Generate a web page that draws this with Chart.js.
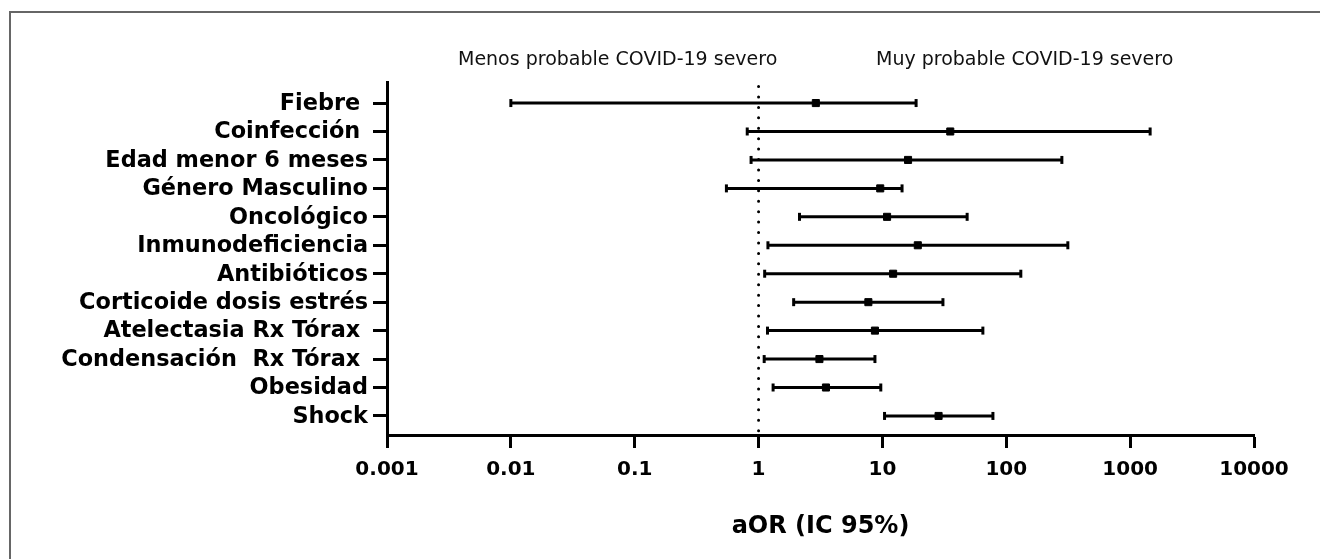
<!DOCTYPE html>
<html><head><meta charset="utf-8">
<script src="https://cdn.jsdelivr.net/npm/chart.js@4.4.0/dist/chart.umd.min.js"></script>
<style>
html,body{margin:0;padding:0;background:#fff;}
#wrap{position:relative;width:1320px;height:559px;overflow:hidden;background:#fff;}
#frame{position:absolute;left:9px;top:11px;width:1400px;height:700px;border-left:2px solid #666;border-top:2px solid #666;}
canvas{position:absolute;left:0;top:0;}
.hdr{position:absolute;top:47px;font:19px "DejaVu Sans",sans-serif;color:#111;white-space:nowrap;line-height:22px;}
</style></head><body>
<div id="wrap"><div id="frame"></div><canvas id="c" width="1320" height="559"></canvas>
<div class="hdr" style="left:458px">Menos probable COVID-19 severo</div>
<div class="hdr" style="left:876px">Muy probable COVID-19 severo</div></div>
<script>
const categories = ["Fiebre ", "Coinfección ", "Edad menor 6 meses", "Género Masculino", "Oncológico", "Inmunodeficiencia", "Antibióticos", "Corticoide dosis estrés", "Atelectasia Rx Tórax ", "Condensación  Rx Tórax ", "Obesidad", "Shock"];
const aOR   = [2.9, 35.3, 16.1, 9.6, 10.9, 19.3, 12.2, 7.7, 8.7, 3.1, 3.5, 28.4];
const lower = [0.01, 0.81, 0.87, 0.55, 2.14, 1.19, 1.12, 1.92, 1.18, 1.11, 1.31, 10.4];
const upper = [18.7, 1450, 281, 14.4, 48.3, 314, 131, 30.8, 64.7, 8.7, 9.7, 78];
const xTickValues = [0.001, 0.01, 0.1, 1, 10, 100, 1000, 10000];
const xTickLabels = ["0.001", "0.01", "0.1", "1", "10", "100", "1000", "10000"];
const refValue = 1;

const datasets = [];
datasets.push({
  data: [{x: refValue, y: -0.74}, {x: refValue, y: 11.67}],
  showLine: true, borderColor: '#000', borderWidth: 3,
  borderDash: [0, 10.43], borderDashOffset: 5.9, borderCapStyle: 'round',
  pointRadius: 0, order: 3
});
categories.forEach((c, i) => {
  datasets.push({
    data: [{x: lower[i], y: i}, {x: upper[i], y: i}],
    showLine: true, borderColor: '#000', borderWidth: 3,
    pointStyle: 'line', rotation: 90, pointRadius: 4, pointBorderWidth: 3,
    pointBorderColor: '#000', order: 2
  });
});
datasets.push({
  data: aOR.map((v, i) => ({x: v, y: i})),
  showLine: false, pointStyle: 'rect', pointRadius: 5,
  backgroundColor: '#000', borderColor: '#000', borderWidth: 1, order: 1
});

new Chart(document.getElementById('c'), {
  type: 'scatter',
  data: {datasets},
  options: {
    responsive: false, animation: false, devicePixelRatio: 1,
    layout: {padding: {top: 82, right: 66, bottom: 0, left: 0}},
    plugins: {legend: {display: false}, tooltip: {enabled: false}},
    scales: {
      x: {
        type: 'logarithmic', min: 0.001, max: 10000,
        afterBuildTicks: s => { s.ticks = xTickValues.map(v => ({value: v})); },
        afterFit: s => { s.height = 124; },
        grid: {drawOnChartArea: false, drawTicks: true, tickLength: 13, tickWidth: 3, tickColor: '#000'},
        border: {display: true, color: '#000', width: 3},
        ticks: {autoSkip: false, maxRotation: 0, padding: 10, color: '#000',
          font: {family: 'DejaVu Sans', weight: 'bold', size: 20},
          callback: (v, i) => xTickLabels[i]},
        title: {display: true, text: 'aOR (IC 95%)', color: '#000',
          font: {family: 'DejaVu Sans', weight: 'bold', size: 24},
          padding: {top: 0, bottom: 18}}
      },
      y: {
        type: 'linear', reverse: true, min: -0.74, max: 11.67,
        afterBuildTicks: s => { s.ticks = categories.map((_, i) => ({value: i})); },
        afterFit: s => { s.width = 387; },
        grid: {drawOnChartArea: false, drawTicks: true, tickLength: 14, tickWidth: 3, tickColor: '#000'},
        border: {display: true, color: '#000', width: 3},
        ticks: {autoSkip: false, padding: 5, color: '#000', labelOffset: 1,
          font: {family: 'DejaVu Sans', weight: 'bold', size: 22.4},
          callback: (v) => categories[v]}
      }
    }
  }
});
</script></body></html>
